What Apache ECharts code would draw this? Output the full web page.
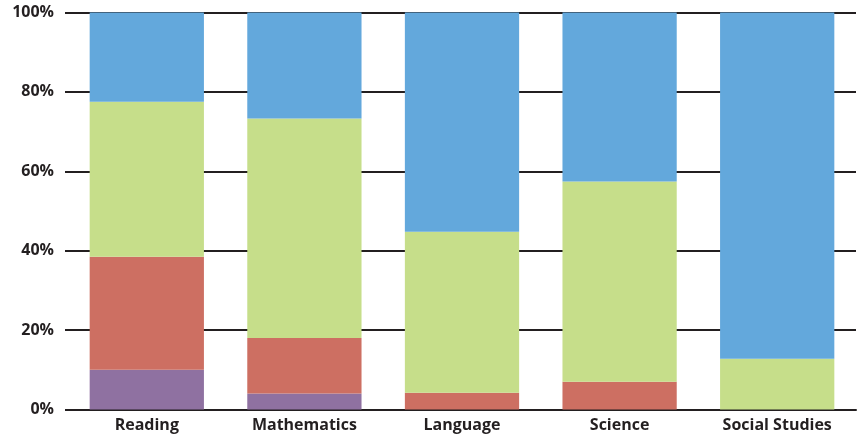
<!DOCTYPE html>
<html>
<head>
<meta charset="utf-8">
<script src="https://cdn.jsdelivr.net/npm/echarts@6/dist/echarts.min.js"></script>
<style>
  html, body { margin: 0; padding: 0; background: #fff; }
  #chart { width: 857px; height: 440px; }
</style>
</head>
<body>
<div id="chart"></div>
<script>
// Subjects along the horizontal axis
const subjects = ['Reading', 'Mathematics', 'Language', 'Science', 'Social Studies'];

// Percentage share of each band per subject (stacked bottom to top)
const purpleShare = [10, 4, 0, 0, 0];
const redShare    = [28.5, 14, 4.2, 7, 0];
const greenShare  = [39, 55.3, 40.6, 50.4, 12.8];
const blueShare   = [22.5, 26.7, 55.2, 42.6, 87.2];

// Y axis tick values
const percentTicks = [0, 20, 40, 60, 80, 100];

const colors = {
  purple: '#8F71A1',
  red: '#CD6F62',
  green: '#C6DE8A',
  blue: '#63A8DC'
};

const ink = '#231F20';
const fontFamily = '"Open Sans", "Noto Sans", sans-serif';

function bandSeries(name, data, color) {
  return {
    name: name,
    type: 'bar',
    stack: 'total',
    data: data,
    barWidth: '72.5%',
    itemStyle: { color: color },
    emphasis: { disabled: true }
  };
}

const chart = echarts.init(document.getElementById('chart'), null, { renderer: 'canvas' });

chart.setOption({
  animation: false,
  grid: { left: 68, right: 1, top: 12.5, bottom: 30.5, containLabel: false },
  xAxis: {
    type: 'category',
    data: subjects,
    axisLine: { show: true, lineStyle: { color: ink, width: 2 } },
    axisTick: { show: false },
    axisLabel: {
      color: ink,
      fontFamily: fontFamily,
      fontWeight: 'bold',
      fontSize: 16,
      margin: 8
    }
  },
  yAxis: {
    type: 'value',
    min: percentTicks[0],
    max: percentTicks[percentTicks.length - 1],
    interval: 20,
    axisLine: { show: false },
    axisTick: { show: true, length: 3, lineStyle: { color: ink, width: 2 } },
    splitLine: { show: true, lineStyle: { color: ink, width: 2 } },
    axisLabel: {
      color: ink,
      fontFamily: fontFamily,
      fontWeight: 'bold',
      fontSize: 16,
      margin: 14,
      formatter: function (v) { return v + '%'; }
    }
  },
  series: [
    bandSeries('Purple', purpleShare, colors.purple),
    bandSeries('Red', redShare, colors.red),
    bandSeries('Green', greenShare, colors.green),
    bandSeries('Blue', blueShare, colors.blue)
  ]
});
</script>
</body>
</html>
